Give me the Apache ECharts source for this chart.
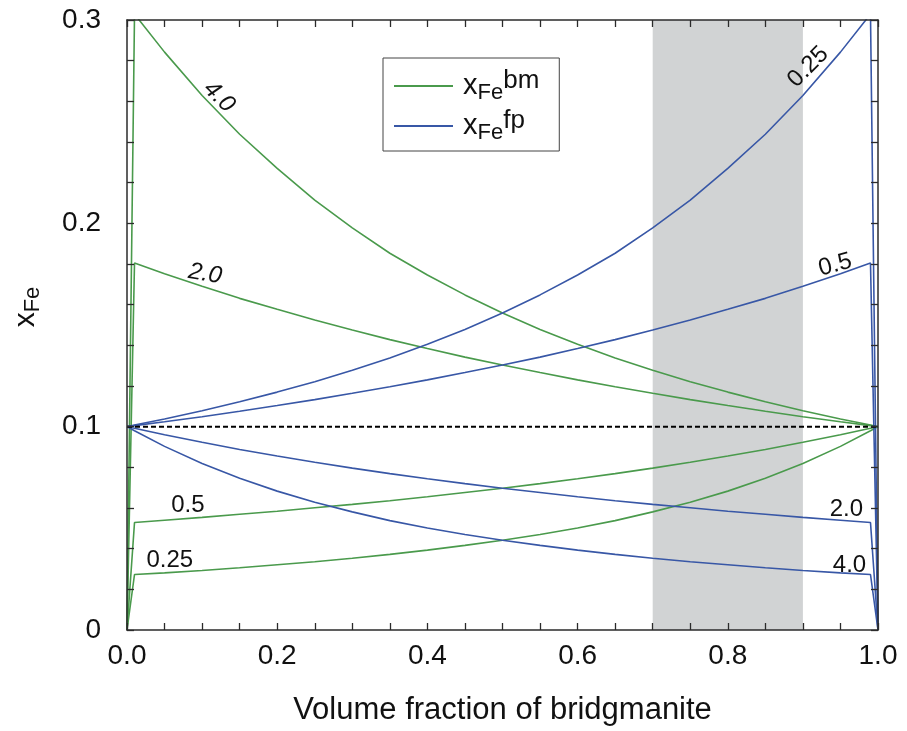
<!DOCTYPE html>
<html>
<head>
<meta charset="utf-8">
<script src="https://cdn.jsdelivr.net/npm/echarts@6/dist/echarts.min.js"></script>
<style>
  html, body { margin: 0; padding: 0; background: #ffffff; }
  #chart { width: 907px; height: 731px; }
</style>
</head>
<body>
<div id="chart"></div>
<script>
// Volume fraction of bridgmanite (x positions shared by every curve)
const fraction = [0, 0.01, 0.05, 0.10, 0.15, 0.20, 0.25, 0.30, 0.35, 0.40, 0.45, 0.50,
                  0.55, 0.60, 0.65, 0.70, 0.75, 0.80, 0.85, 0.90, 0.95, 0.99, 1.0];

// Fe fraction in bridgmanite, one curve per partition coefficient
const bm40  = [0, 0.3029, 0.2842, 0.2629, 0.2438, 0.2270, 0.2114, 0.1978, 0.1853, 0.1746, 0.1648, 0.1559,
               0.1478, 0.1405, 0.1338, 0.1277, 0.1221, 0.1170, 0.1123, 0.1078, 0.1038, 0.1008, 0.1];
const bm20  = [0, 0.1805, 0.1752, 0.1691, 0.1631, 0.1577, 0.1525, 0.1475, 0.1428, 0.1384, 0.1342, 0.1303,
               0.1266, 0.1230, 0.1196, 0.1164, 0.1133, 0.1104, 0.1076, 0.1049, 0.1024, 0.1005, 0.1];
const bm05  = [0, 0.0529, 0.0540, 0.0554, 0.0569, 0.0584, 0.0601, 0.0618, 0.0636, 0.0655, 0.0676, 0.0697,
               0.0720, 0.0744, 0.0769, 0.0796, 0.0825, 0.0856, 0.0888, 0.0923, 0.0960, 0.0992, 0.1];
const bm025 = [0, 0.0273, 0.0281, 0.0293, 0.0306, 0.0321, 0.0336, 0.0353, 0.0372, 0.0393, 0.0416, 0.0441,
               0.0470, 0.0502, 0.0538, 0.0581, 0.0628, 0.0683, 0.0746, 0.0819, 0.0903, 0.0980, 0.1];

// Fe fraction in ferropericlase, same coefficients
const fp40  = [0.1, 0.0980, 0.0903, 0.0819, 0.0746, 0.0683, 0.0628, 0.0581, 0.0538, 0.0502, 0.0470, 0.0441,
               0.0416, 0.0393, 0.0372, 0.0353, 0.0336, 0.0321, 0.0306, 0.0293, 0.0281, 0.0273, 0];
const fp20  = [0.1, 0.0992, 0.0960, 0.0923, 0.0888, 0.0856, 0.0825, 0.0796, 0.0769, 0.0744, 0.0720, 0.0697,
               0.0676, 0.0655, 0.0636, 0.0618, 0.0601, 0.0584, 0.0569, 0.0554, 0.0540, 0.0529, 0];
const fp05  = [0.1, 0.1005, 0.1024, 0.1049, 0.1076, 0.1104, 0.1133, 0.1164, 0.1196, 0.1230, 0.1266, 0.1303,
               0.1342, 0.1384, 0.1428, 0.1475, 0.1525, 0.1577, 0.1631, 0.1691, 0.1752, 0.1805, 0];
const fp025 = [0.1, 0.1008, 0.1038, 0.1078, 0.1123, 0.1170, 0.1221, 0.1277, 0.1338, 0.1405, 0.1478, 0.1559,
               0.1648, 0.1746, 0.1853, 0.1978, 0.2114, 0.2270, 0.2438, 0.2629, 0.2842, 0.3029, 0];

// Bulk composition reference line and the shaded fraction range
const bulkX = [0, 1];
const bulkY = [0.1, 0.1];
const shadeRange = [0.7, 0.9];

// Curve labels (partition coefficients)
const labelsBm = ['4.0', '2.0', '0.5', '0.25'];
const labelsFp = ['0.25', '0.5', '2.0', '4.0'];

const GREEN = '#4a9a4c';
const BLUE = '#3857a6';
const FONT = "'Liberation Sans', Arial, Helvetica, sans-serif";
const AXIS = '#2b2b2b';

function pairs(xs, ys) { return xs.map((x, i) => [x, ys[i]]); }

function curve(name, color, ys) {
  return {
    type: 'line', name: name, data: pairs(fraction, ys),
    symbol: 'none', showSymbol: false, clip: true,
    lineStyle: { color: color, width: 1.6 },
    itemStyle: { color: color },
    z: 3, animation: false
  };
}

const chart = echarts.init(document.getElementById('chart'));

function tickStyle() {
  return { show: true, inside: true, length: 7, lineStyle: { color: AXIS, width: 1.3 } };
}
function lineStyleAxis() {
  return { show: true, onZero: false, lineStyle: { color: AXIS, width: 1.5 } };
}

const richLegend = {
  x:   { fontFamily: FONT, fontSize: 29, color: '#111', lineHeight: 36, verticalAlign: 'middle', padding: [0, 0, 0, 5] },
  sub: { fontFamily: FONT, fontSize: 22, color: '#111', lineHeight: 22, verticalAlign: 'bottom' },
  sup: { fontFamily: FONT, fontSize: 26, color: '#111', lineHeight: 26, verticalAlign: 'top' }
};

chart.setOption({
  animation: false,
  backgroundColor: '#ffffff',
  grid: { left: 127, right: 29, top: 20, bottom: 101, containLabel: false },
  legend: {
    data: [{ name: 'bm', icon: 'rect' }, { name: 'fp', icon: 'rect' }],
    orient: 'vertical',
    left: 383, top: 58,
    padding: [10, 20, 7, 11],
    itemGap: 4,
    itemWidth: 59, itemHeight: 2,
    borderColor: '#444', borderWidth: 1,
    backgroundColor: '#ffffff',
    selectedMode: false,
    formatter: function (n) { return '{x|x}{sub|Fe}{sup|' + n + '}'; },
    textStyle: { rich: richLegend }
  },
  xAxis: [
    {
      type: 'value', min: 0, max: 1, interval: 0.05, position: 'bottom', z: 10,
      axisLine: lineStyleAxis(), axisTick: tickStyle(), splitLine: { show: false },
      axisLabel: {
        margin: 12, fontFamily: FONT, fontSize: 28, color: '#111',
        formatter: function (v) { return Math.round(v * 100) % 20 === 0 ? v.toFixed(1) : ''; }
      },
      name: 'Volume fraction of bridgmanite', nameLocation: 'middle', nameGap: 65,
      nameTextStyle: { fontFamily: FONT, fontSize: 31, color: '#111' }
    },
    {
      type: 'value', min: 0, max: 1, interval: 0.05, position: 'top', z: 10,
      axisLine: lineStyleAxis(), axisTick: tickStyle(), splitLine: { show: false },
      axisLabel: { show: false }
    }
  ],
  yAxis: [
    {
      type: 'value', min: 0, max: 0.3, interval: 0.02, position: 'left', z: 10,
      axisLine: lineStyleAxis(), axisTick: tickStyle(), splitLine: { show: false },
      axisLabel: {
        margin: 26, fontFamily: FONT, fontSize: 28, color: '#111',
        formatter: function (v) {
          const k = Math.round(v * 100);
          if (k % 10 !== 0) return '';
          return k === 0 ? '0' : (k / 100).toFixed(1);
        }
      }
    },
    {
      type: 'value', min: 0, max: 0.3, interval: 0.02, position: 'right', z: 10,
      axisLine: lineStyleAxis(), axisTick: tickStyle(), splitLine: { show: false },
      axisLabel: { show: false }
    }
  ],
  series: [
    {
      type: 'line', name: 'bulk', data: pairs(bulkX, bulkY), symbol: 'none',
      lineStyle: { color: '#000', width: 2, type: [5, 3] }, z: 4,
      markArea: {
        silent: true, z: 1,
        itemStyle: { color: '#d1d3d4' },
        data: [[{ xAxis: shadeRange[0] }, { xAxis: shadeRange[1] }]]
      }
    },
    curve('bm', GREEN, bm40),
    curve('bm', GREEN, bm20),
    curve('bm', GREEN, bm05),
    curve('bm', GREEN, bm025),
    curve('fp', BLUE, fp40),
    curve('fp', BLUE, fp20),
    curve('fp', BLUE, fp05),
    curve('fp', BLUE, fp025)
  ]
});

// Place the coefficient labels next to their curves (data coordinates)
const labelSpots = [
  { text: labelsBm[0], at: [0.1225, 0.2622], angle: -45, italic: true },
  { text: labelsBm[1], at: [0.104, 0.1751], angle: -10, italic: true },
  { text: labelsBm[2], at: [0.081, 0.0615], angle: 0 },
  { text: labelsBm[3], at: [0.057, 0.0344], angle: 0 },
  { text: labelsFp[0], at: [0.907, 0.2769], angle: 45 },
  { text: labelsFp[1], at: [0.943, 0.1795], angle: 15 },
  { text: labelsFp[2], at: [0.958, 0.0595], angle: 0 },
  { text: labelsFp[3], at: [0.962, 0.0320], angle: 0 }
];

const graphics = labelSpots.map(function (s) {
  const p = chart.convertToPixel({ xAxisIndex: 0, yAxisIndex: 0 }, s.at);
  return {
    type: 'text', x: p[0], y: p[1], rotation: s.angle * Math.PI / 180, z: 20,
    style: {
      text: s.text, fill: '#111', align: 'center', verticalAlign: 'middle',
      font: (s.italic ? 'italic ' : '') + '24px ' + FONT
    }
  };
});

// Rotated y-axis title with subscript
graphics.push({
  type: 'text', x: 26, y: 307, rotation: Math.PI / 2, z: 20,
  style: {
    text: '{x|x}{sub|Fe}', align: 'center', verticalAlign: 'middle',
    rich: {
      x:   { fontFamily: FONT, fontSize: 30, fill: '#111', lineHeight: 36, verticalAlign: 'middle' },
      sub: { fontFamily: FONT, fontSize: 22, fill: '#111', lineHeight: 22, verticalAlign: 'bottom' }
    }
  }
});

chart.setOption({ graphic: graphics });
</script>
</body>
</html>
